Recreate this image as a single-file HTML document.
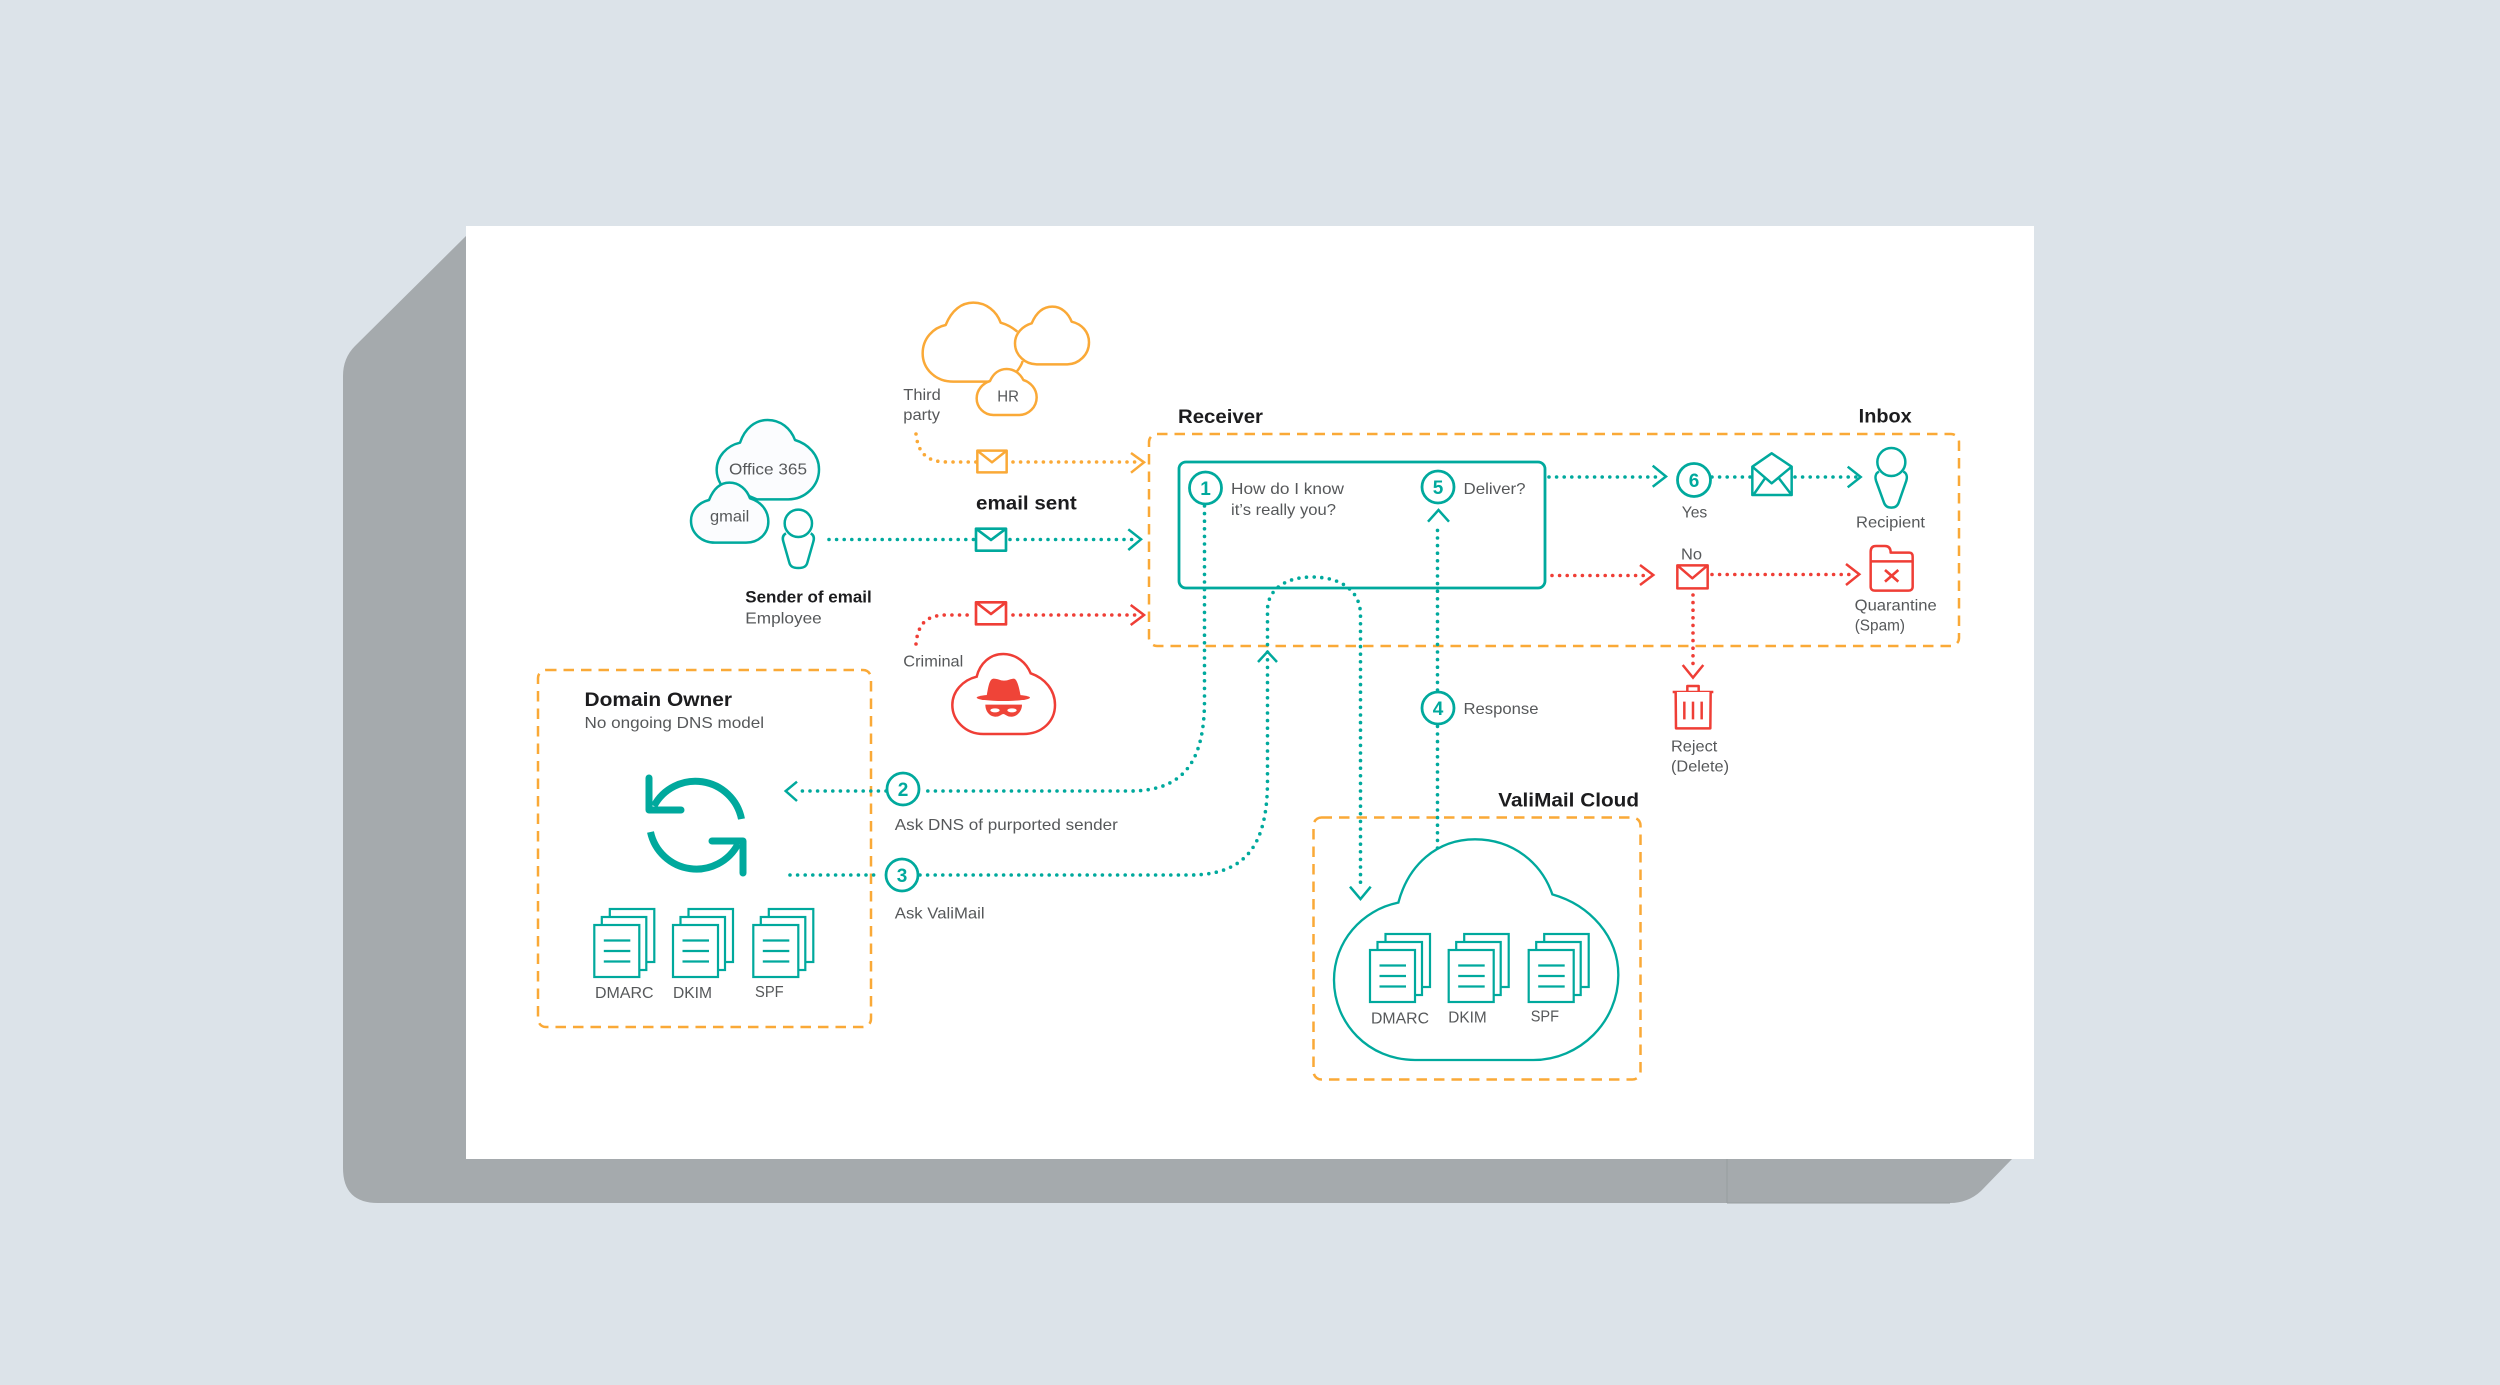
<!DOCTYPE html>
<html><head><meta charset="utf-8"><title>Email authentication flow</title>
<style>
html,body{margin:0;padding:0;width:2500px;height:1385px;overflow:hidden;background:#dce3e9}
svg{display:block}
text{font-family:"Liberation Sans",sans-serif;font-size:16px;fill:#56585a}
.b{font-weight:bold;font-size:19.5px;fill:#1c1c1e}
.n{font-weight:bold;font-size:19px;fill:#00a99d;text-anchor:middle}
.box{fill:none;stroke:#faa937;stroke-width:2.5;stroke-dasharray:10.5 7}
.dt,.do,.dr{fill:none;stroke-width:3.6;stroke-linecap:round;stroke-dasharray:0 7.6}
.dt{stroke:#00a99d}.do{stroke:#faa937}.dr{stroke:#ef3e36}
.at,.ao,.ar{fill:none;stroke-width:2.5;stroke-linecap:butt}
.at{stroke:#00a99d}.ao{stroke:#faa937}.ar{stroke:#ef3e36}
.c{fill:#fff;stroke:#00a99d;stroke-width:2.8}
</style></head><body>
<svg width="2500" height="1385" viewBox="0 0 2500 1385" xmlns="http://www.w3.org/2000/svg">
<defs>
<g id="doc" fill="#fff" stroke="#00a99d" stroke-width="2.2">
<rect x="15.5" y="-16" width="44.5" height="53"/>
<rect x="7.5" y="-8" width="44.5" height="53"/>
<rect x="0" y="0" width="45" height="52"/>
<path d="M9.5 15.5H36M9.5 26H36M9.5 36.5H36" fill="none"/>
</g>
</defs>
<rect width="2500" height="1385" fill="#dce3e9"/>
<path d="M466 236L355 346Q343 358 343 376V1168Q343 1203 378 1203H1950Q1968 1203 1981 1191L2012 1159H466Z" fill="#a5aaad"/>
<path d="M1727 1159V1203" stroke="#989da0" stroke-width="1" fill="none"/>
<path d="M1727 1203H1950" stroke="#989da0" stroke-width="1" fill="none"/>
<rect x="466" y="226" width="1568" height="933" fill="#fff"/>

<!-- dashed boxes -->
<rect class="box" x="1149" y="434" width="810" height="212" rx="8"/>
<rect class="box" x="538" y="670" width="333" height="357" rx="8"/>
<rect class="box" x="1313.5" y="817.5" width="327" height="262" rx="8"/>

<!-- main receiver box -->
<rect x="1179" y="462" width="366" height="126" rx="7" fill="none" stroke="#00a99d" stroke-width="2.8"/>

<!-- connectors -->
<path class="do" d="M916 434C918 453 927 462 947 462H977M1013 462H1140"/>
<path class="ao" d="M1131 453L1144 462.3L1131 472.7"/>
<path class="dt" d="M829 539.5H975M1010 539.5H1137"/>
<path class="at" d="M1128.3 529.3L1141 539.3L1128.3 550"/>
<path class="dr" d="M916 644C918 623 927 615 947 615H973M1013 615H1140"/>
<path class="ar" d="M1130.7 605L1144 615L1130.7 625"/>

<path class="dt" d="M1204.5 506V700C1204.5 760 1185 791 1130 791H921M886 791H797"/>
<path class="at" d="M797 781.7L785.7 791L797 801"/>
<path class="dt" d="M790 875H880M920 875H1190C1250 875 1267.5 840 1267.5 780V610C1267.5 590 1285 577 1312 577C1340 577 1360.5 590 1360.5 615V885"/>
<path class="at" d="M1258 662L1267.5 651.7L1277 662"/>
<path class="at" d="M1350 886.7L1360.5 899L1370.7 886.7"/>
<path class="dt" d="M1437.5 848V726M1437.5 690V525"/>
<path class="at" d="M1428 521.7L1438.5 510L1449 521.7"/>

<path class="dt" d="M1549 477H1660M1712 477H1752M1795 477H1857"/>
<path class="at" d="M1652.7 465.7L1666 476.5L1652.7 486.7"/>
<path class="at" d="M1847.7 466.7L1860.7 477L1847.7 487.3"/>
<path class="dr" d="M1552 575.5H1648M1712 574.5H1855M1693 595V665"/>
<path class="ar" d="M1640 565L1653.3 575L1640 585"/>
<path class="ar" d="M1846 564L1859.3 574.3L1846 585"/>
<path class="ar" d="M1682.7 665L1693 677.7L1703.3 665"/>

<!-- Zoom-1 group: clouds, person, envelopes -->
<g transform="translate(660 280) scale(.33333)" fill="none" stroke-linejoin="round">
<g stroke="#faa937" stroke-width="7.5" fill="#fff">
<path d="M990 305H880C825 305 788 265 788 220C788 175 820 143 857 135C875 90 905 68 940 68C980 68 1010 95 1022 128C1040 133 1058 143 1072 155" fill="none"/>
<path d="M1088 243C1085 255 1078 265 1070 275" fill="none"/>
<path d="M1115 130C1130 95 1150 80 1177 80C1205 80 1225 100 1235 125C1265 132 1287 155 1287 187C1287 225 1255 253 1222 253H1130C1095 253 1065 225 1065 190C1065 160 1088 138 1115 130Z"/>
<path d="M990 303C1000 280 1018 267 1040 267C1062 267 1080 280 1090 300C1113 307 1130 328 1130 352C1130 382 1105 405 1078 405H1000C972 405 950 382 950 355C950 330 968 310 990 303Z"/>
<rect x="952" y="512" width="88" height="65"/>
<path d="M952 512L996 547L1040 512" fill="none"/>
</g>
<g stroke="#00a99d" stroke-width="7.5" fill="#fbfcfe">
<path d="M182 612C175 600 170 585 170 570C170 530 200 497 240 488C255 445 285 420 323 420C362 420 392 445 405 480C445 492 477 525 477 568C477 618 435 658 385 658H290Z"/>
<path d="M147 660C160 628 180 608 208 608C238 608 260 628 270 655C302 665 325 690 325 725C325 762 295 788 258 788H165C125 788 93 760 93 722C93 692 115 668 147 660Z"/>
<path d="M378 760C368 765 367 775 370 785L388 848C391 860 400 864 415 864C430 864 439 860 442 848L460 785C463 775 462 765 452 760" fill="#fff"/>
<circle cx="415" cy="730" r="41" fill="#fff"/>
<rect x="948" y="746" width="90" height="66" fill="#fff" stroke-width="8"/>
<path d="M948 746L993 780L1038 746" fill="none" stroke-width="8"/>
</g>
<g stroke="#ef3e36" stroke-width="8" fill="#fff">
<rect x="948" y="967" width="90" height="66"/>
<path d="M948 967L993 1002L1038 967" fill="none"/>
</g>
</g>

<!-- Criminal cloud -->
<g transform="translate(880 620) scale(.33333)">
<path d="M290 170C300 130 330 102 370 102C410 102 440 130 452 160C495 175 525 210 525 255C525 305 485 342 430 342H310C255 342 217 300 217 255C217 215 248 180 290 170Z" fill="#fff" stroke="#ef3e36" stroke-width="7.5"/>
<g fill="#ef4438">
<ellipse cx="370" cy="233" rx="80" ry="10"/>
<path d="M320 228C325 200 328 178 340 176C355 176 360 182 372 182C385 182 392 176 402 176C412 178 418 205 422 228Z"/>
<path d="M316 254H426C426 275 410 292 390 290C380 289 375 282 370 282C365 282 360 289 350 290C330 292 316 275 316 254Z"/>
</g>
<ellipse cx="345" cy="271" rx="14" ry="6" fill="#fff"/>
<ellipse cx="396" cy="271" rx="14" ry="6" fill="#fff"/>
</g>

<!-- Inbox icons -->
<g transform="translate(1620 400) scale(.33333)" fill="none" stroke-linejoin="round">
<g stroke="#00a99d" stroke-width="7.5">
<path d="M397 285V200L455 160L515 200V285Z" fill="#fff"/>
<path d="M397 200L455 250L515 200M400 285L435 235M515 285L477 235"/>
<path d="M777 215C766 220 765 232 768 242L792 308C796 319 803 323 814 323C825 323 832 319 836 308L859 242C862 232 861 220 850 215" fill="#fff"/>
<circle cx="814" cy="186" r="42" fill="#fff"/>
</g>
<g stroke="#ef3e36" stroke-width="7.5">
<rect x="172" y="496" width="91" height="69" fill="#fff"/>
<path d="M172 496L217 535L263 496"/>
<path d="M752 455C752 443 758 438 768 438H795C805 438 812 443 812 458H868C875 458 878 463 878 470V560C878 568 873 572 865 572H765C757 572 752 568 752 560Z" fill="#fff"/>
<path d="M752 484H878"/>
<path d="M795 510L835 545M835 510L795 545" stroke-width="8"/>
<path d="M158 876H280M202 876V858H236V876"/>
<path d="M167 876L168 985H271L272 876" fill="#fff"/>
<path d="M193 905V958M219 905V958M245 905V958"/>
</g>
</g>

<!-- Valimail cloud -->
<path transform="translate(1300 780) scale(.33333)" d="M295 368C325 255 410 178 525 178C640 178 725 250 757 343C870 375 955 470 955 585C955 725 840 840 700 840H345C205 840 102 730 102 600C102 485 185 390 295 368Z" fill="none" stroke="#00a99d" stroke-width="7"/>
<use href="#doc" x="1370" y="950"/>
<use href="#doc" x="1448.7" y="950"/>
<use href="#doc" x="1528.7" y="950"/>

<!-- Domain owner icons -->
<use href="#doc" x="594.3" y="925"/>
<use href="#doc" x="673" y="925"/>
<use href="#doc" x="753.3" y="925"/>
<g fill="none" stroke="#00a99d" stroke-width="7" stroke-linecap="round" stroke-linejoin="round">
<path d="M741.5 819A47 47 0 0 0 654 806" stroke-linecap="butt"/>
<path d="M649 778V810H681"/>
<path d="M650.5 832A47 47 0 0 0 738 844" stroke-linecap="butt"/>
<path d="M712 841H743V873"/>
</g>

<!-- numbered circles -->
<circle class="c" cx="1205.5" cy="488" r="16"/><text class="n" x="1205.5" y="495">1</text>
<circle class="c" cx="903" cy="789" r="16"/><text class="n" x="903" y="796">2</text>
<circle class="c" cx="902" cy="875" r="16"/><text class="n" x="902" y="882">3</text>
<circle class="c" cx="1438" cy="708" r="16"/><text class="n" x="1438" y="715">4</text>
<circle class="c" cx="1438" cy="487" r="16"/><text class="n" x="1438" y="494">5</text>
<circle class="c" cx="1694" cy="480" r="16.5"/><text class="n" x="1694" y="487">6</text>

<!-- labels -->
<text x="903.3" y="400" textLength="37.4" lengthAdjust="spacingAndGlyphs">Third</text>
<text x="903.3" y="420" textLength="36.7" lengthAdjust="spacingAndGlyphs">party</text>
<text x="997.3" y="401.7" textLength="21.7" lengthAdjust="spacingAndGlyphs">HR</text>
<text x="729" y="474.3" textLength="78" lengthAdjust="spacingAndGlyphs">Office 365</text>
<text x="710" y="521.7" textLength="39.3" lengthAdjust="spacingAndGlyphs">gmail</text>
<text class="b" x="976" y="509.3" textLength="100.7" lengthAdjust="spacingAndGlyphs">email sent</text>
<text class="b" style="font-size:16.5px" x="745.3" y="602.3" textLength="126.4" lengthAdjust="spacingAndGlyphs">Sender of email</text>
<text x="745.3" y="623.3" textLength="76.4" lengthAdjust="spacingAndGlyphs">Employee</text>
<text x="903.3" y="666.7" textLength="60" lengthAdjust="spacingAndGlyphs">Criminal</text>
<text class="b" x="1178" y="423" textLength="85" lengthAdjust="spacingAndGlyphs">Receiver</text>
<text class="b" x="1858.7" y="422.7" textLength="53" lengthAdjust="spacingAndGlyphs">Inbox</text>
<text x="1231" y="494" textLength="113" lengthAdjust="spacingAndGlyphs">How do I know</text>
<text x="1231" y="515" textLength="105" lengthAdjust="spacingAndGlyphs">it’s really you?</text>
<text x="1463.5" y="494" textLength="62" lengthAdjust="spacingAndGlyphs">Deliver?</text>
<text x="1463.5" y="714" textLength="75" lengthAdjust="spacingAndGlyphs">Response</text>
<text x="1681.7" y="517.3" textLength="25.6" lengthAdjust="spacingAndGlyphs">Yes</text>
<text x="1681" y="559.3" textLength="21" lengthAdjust="spacingAndGlyphs">No</text>
<text x="1856" y="527.3" textLength="69" lengthAdjust="spacingAndGlyphs">Recipient</text>
<text x="1854.7" y="610.7" textLength="82" lengthAdjust="spacingAndGlyphs">Quarantine</text>
<text x="1854.7" y="630.7" textLength="50.3" lengthAdjust="spacingAndGlyphs">(Spam)</text>
<text x="1671" y="751.3" textLength="46.3" lengthAdjust="spacingAndGlyphs">Reject</text>
<text x="1671" y="771.7" textLength="58" lengthAdjust="spacingAndGlyphs">(Delete)</text>
<text class="b" x="584.5" y="706" textLength="147.5" lengthAdjust="spacingAndGlyphs">Domain Owner</text>
<text x="584.5" y="728" textLength="179.5" lengthAdjust="spacingAndGlyphs">No ongoing DNS model</text>
<text x="894.8" y="830" textLength="223" lengthAdjust="spacingAndGlyphs">Ask DNS of purported sender</text>
<text x="894.8" y="918.3" textLength="89.8" lengthAdjust="spacingAndGlyphs">Ask ValiMail</text>
<text x="595" y="998" textLength="58.6" lengthAdjust="spacingAndGlyphs">DMARC</text>
<text x="673" y="998" textLength="39" lengthAdjust="spacingAndGlyphs">DKIM</text>
<text x="755" y="997" textLength="28.7" lengthAdjust="spacingAndGlyphs">SPF</text>
<text class="b" x="1498.3" y="806.7" textLength="140.7" lengthAdjust="spacingAndGlyphs">ValiMail Cloud</text>
<text x="1371" y="1023.3" textLength="58" lengthAdjust="spacingAndGlyphs">DMARC</text>
<text x="1448.3" y="1022.7" textLength="38.4" lengthAdjust="spacingAndGlyphs">DKIM</text>
<text x="1530.7" y="1021.7" textLength="28.3" lengthAdjust="spacingAndGlyphs">SPF</text>
</svg>
</body></html>
